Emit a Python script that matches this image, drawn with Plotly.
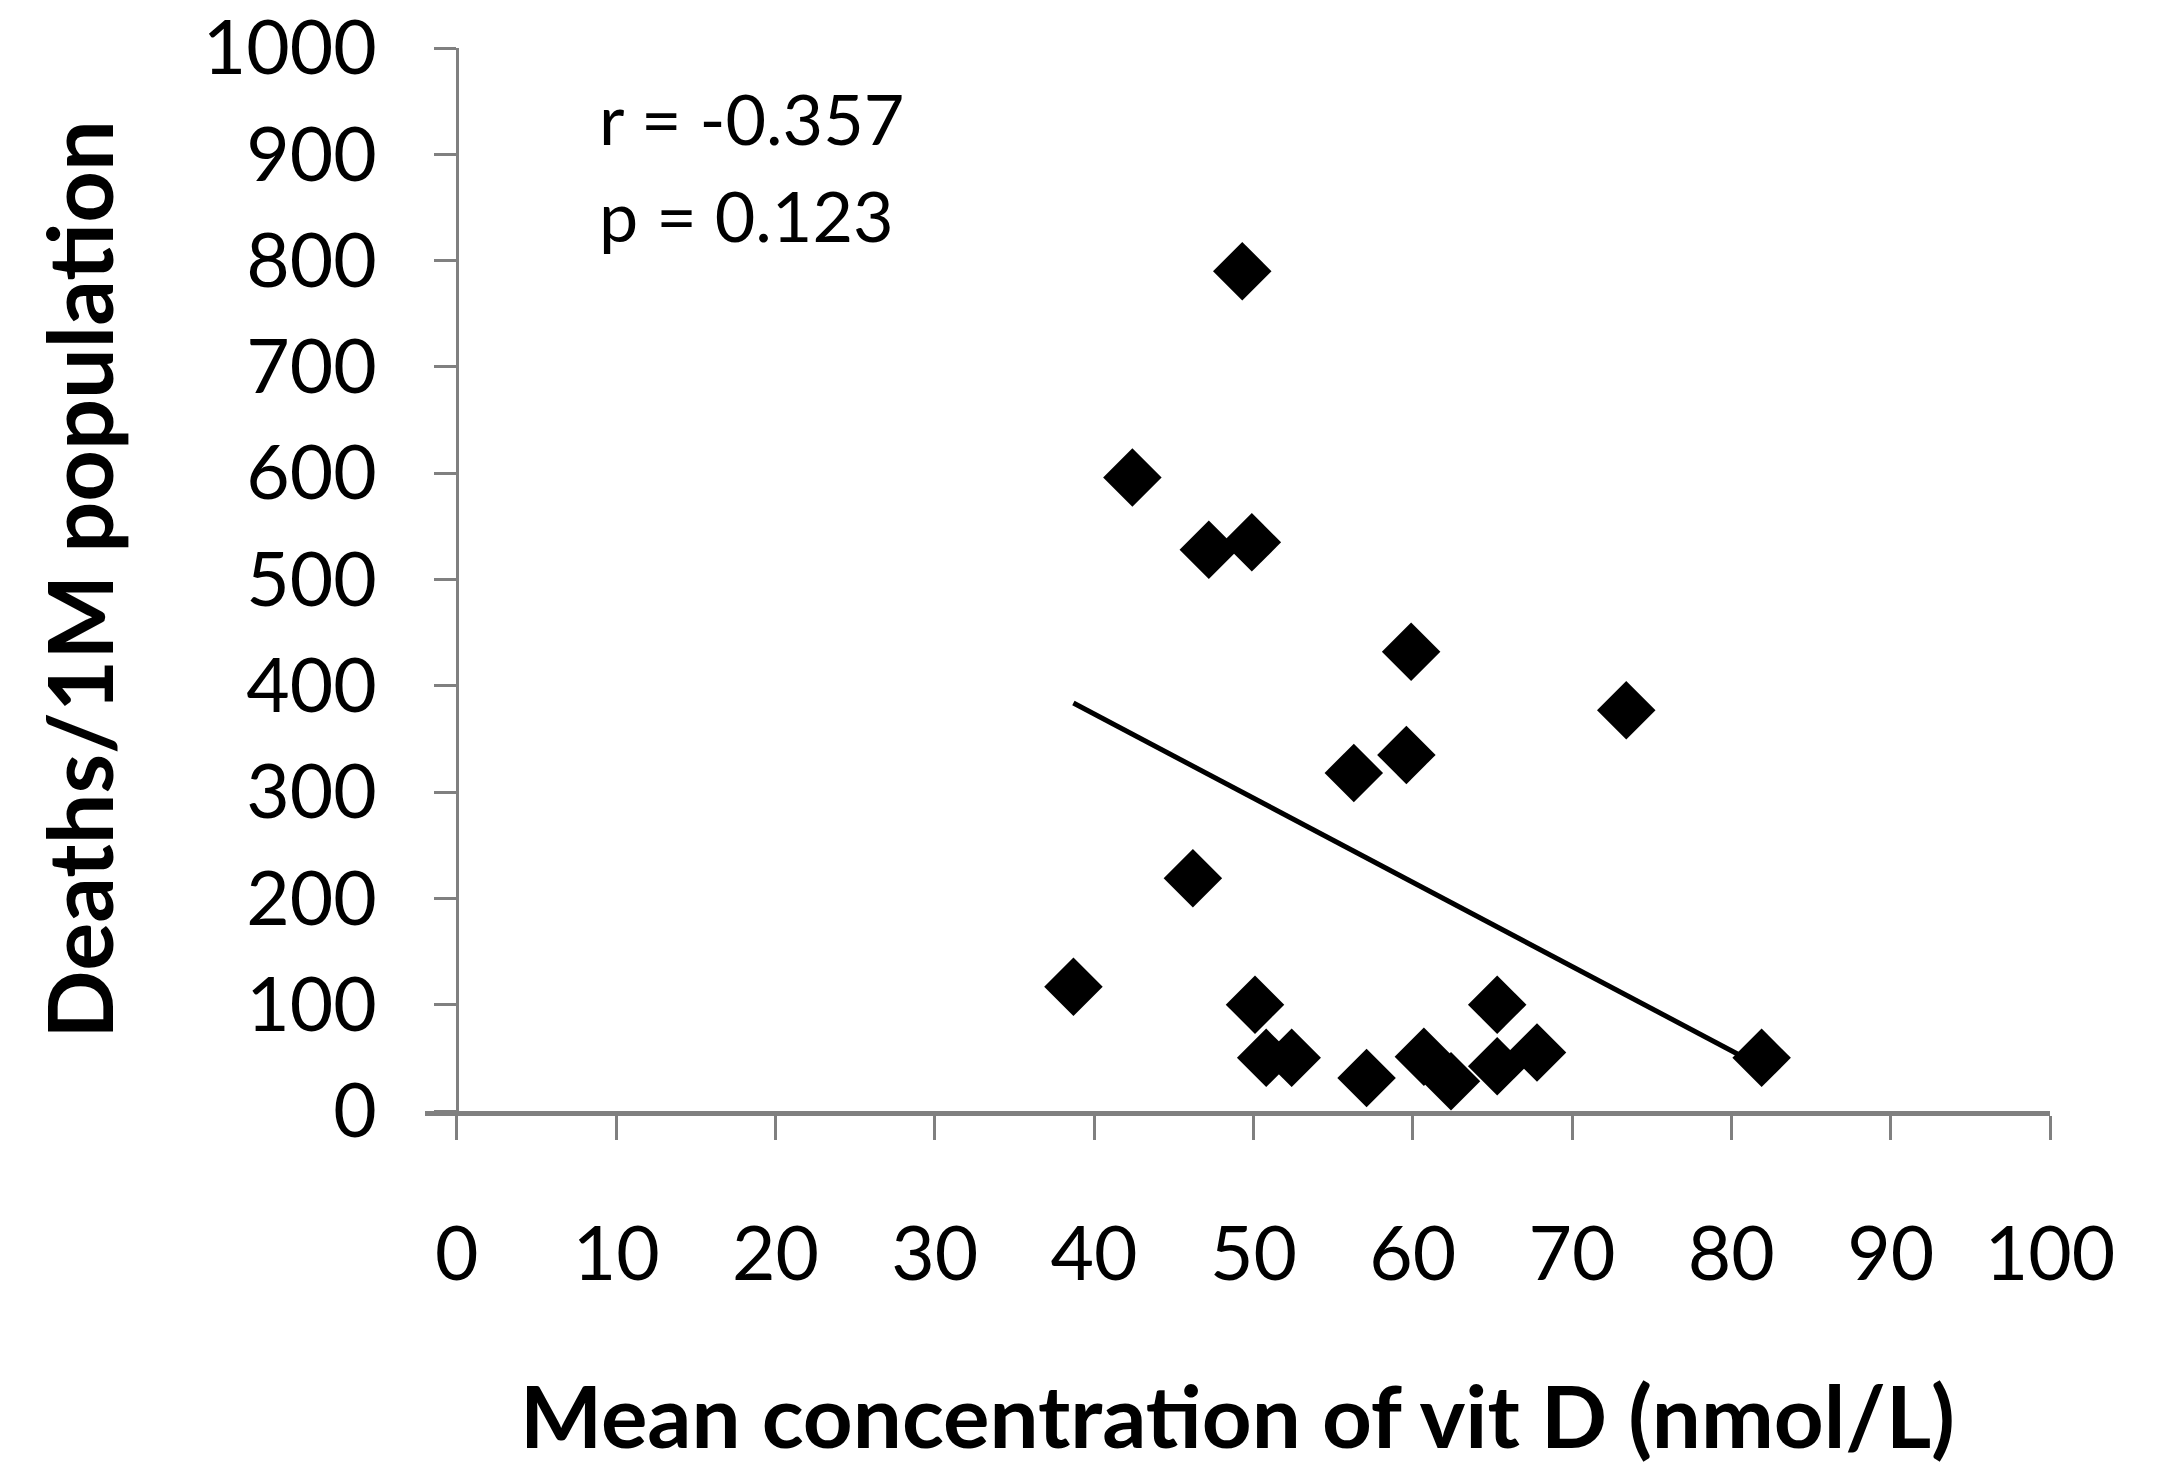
import numpy as np
import plotly.graph_objects as go

# Mean vitamin D concentration (nmol/L) and COVID-19 deaths per 1M population
vit_d = [49.3, 42.4, 47.2, 49.9, 59.9, 73.4, 56.3, 59.6, 46.2, 38.7,
         50.1, 50.8, 52.4, 57.1, 60.7, 62.4, 65.3, 65.3, 67.8, 81.9]
deaths = [790, 596, 528, 535, 432, 377, 318, 335, 219, 117,
          100, 50, 50, 31, 51, 28, 100, 42, 55, 50]

x_ticks = list(range(0, 101, 10))
y_ticks = list(range(0, 1001, 100))
stats_lines = ["r = -0.357", "p = 0.123"]

# Linear least-squares trendline over the data range
slope, intercept = np.polyfit(vit_d, deaths, 1)
trend_x = np.array([min(vit_d), max(vit_d)])
trend_y = slope * trend_x + intercept

FONT = "Lato"
X_MIN = -2.0
X_MAX = 100.0

fig = go.Figure()
fig.add_trace(go.Scatter(
    x=trend_x, y=trend_y, mode="lines",
    line=dict(color="black", width=5),
    showlegend=False, hoverinfo="skip",
))
fig.add_trace(go.Scatter(
    x=vit_d, y=deaths, mode="markers",
    marker=dict(symbol="diamond", size=45, color="black", line=dict(width=0)),
    showlegend=False,
))

# Correlation statistics in the upper-left corner of the plot
for label, yval in zip(stats_lines, [934, 843]):
    fig.add_annotation(
        x=8.8, y=yval, xref="x", yref="y", xanchor="left", yanchor="middle",
        text=label, showarrow=False, align="left",
        font=dict(family=FONT, size=70, color="black"),
    )

fig.update_layout(
    width=2172, height=1467,
    margin=dict(l=425, r=122, t=48, b=356),
    paper_bgcolor="white", plot_bgcolor="white",
    font=dict(family=FONT, color="black"),
    xaxis=dict(
        range=[X_MIN, X_MAX], tickvals=x_ticks, ticktext=[str(v) for v in x_ticks],
        automargin=False,
        showgrid=False, zeroline=False,
        showline=True, linecolor="#808080", linewidth=5,
        ticks="outside", ticklen=24, tickwidth=3, tickcolor="#808080",
        tickfont=dict(family=FONT, size=75, color="black"),
        ticklabelstandoff=50,
        title=dict(text="<b>Mean concentration of vit D (nmol/L)</b>",
                   font=dict(family=FONT, size=87, color="black"), standoff=95),
    ),
    yaxis=dict(
        range=[0, 1000], tickvals=y_ticks, ticktext=[str(v) for v in y_ticks],
        automargin=False,
        anchor="free", position=(0 - X_MIN) / (X_MAX - X_MIN),
        showgrid=False, zeroline=False,
        showline=True, linecolor="#808080", linewidth=3,
        ticks="outside", ticklen=22, tickwidth=3, tickcolor="#808080",
        tickfont=dict(family=FONT, size=75, color="black"),
        ticklabelstandoff=42,
        title=dict(text="<b>Deaths/1M population</b>",
                   font=dict(family=FONT, size=90, color="black"), standoff=58),
    ),
)

fig.write_html("out.html")
